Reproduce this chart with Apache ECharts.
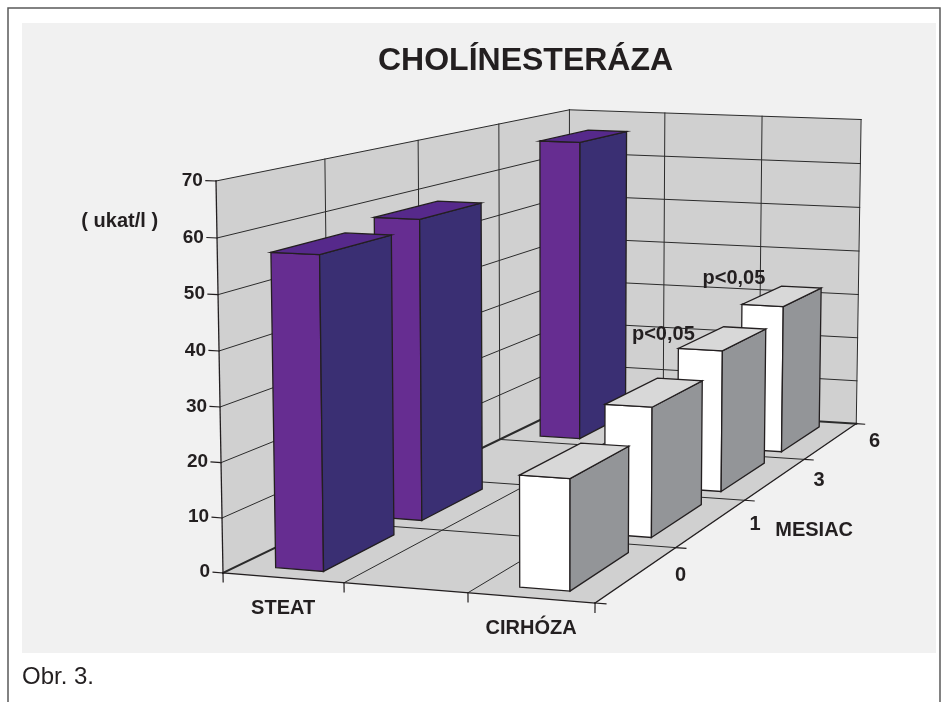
<!DOCTYPE html>
<html>
<head>
<meta charset="utf-8">
<script src="https://cdn.jsdelivr.net/npm/echarts@6/dist/echarts.min.js"></script>
<style>
  html, body { margin: 0; padding: 0; background: #ffffff; }
  #chart { width: 946px; height: 702px; }
</style>
</head>
<body>
<div id="chart"></div>
<script>
// ---- data ----
const categories = ['STEAT', '', 'CIRHÓZA'];
const months = ['0', '1', '3', '6'];
const steatValues = [57, 58.5, null, 66];
const cirhozaValues = [20, 25, 29, 32];
const valueTicks = [0, 10, 20, 30, 40, 50, 60, 70];
const cirhozaNotes = ['', '', 'p<0,05', 'p<0,05'];

const seriesValues = [steatValues, null, cirhozaValues];   // one list per category slot

// ---- look ----
const FONT = '"Liberation Sans", Arial, Helvetica, sans-serif';
const INK = '#231f20';
const WALL = '#d0d0d0';
const PALETTE = [
  { front: '#662d91', side: '#3a2f73', top: '#56298b' },
  null,
  { front: '#ffffff', side: '#939598', top: '#d8d8d8' }
];

// The hidden cartesian grid is the flat front plane of the box; VIEW tilts it
// and pushes the month rows backwards in perspective.
const VIEW = {
  depthShift: [115.02, -55.5],          // px per month row, before foreshortening
  frontRise: 9.647,                     // px the floor edge drops per category width
  lean: -0.98,                          // px the value axis leans per 10 units
  persp: [-0.01195, -0.00294, 0.0822],  // foreshortening per category, per 10 units, per row
  barHalfWidth: 0.2,                    // in category widths
  barDepth: [0.15, 0.85],               // share of a month row taken by a bar
  tickX: 0.083,                         // value-axis tick length (category widths)
  tickValue: 1.64,                      // category-axis tick length (value units)
  tickDepth: 0.085                      // month-axis tick length (category widths)
};
// label placement (screen offsets in px)
const LAYOUT = {
  valueLabelGap: 3,
  categoryLabelDrop: 31,
  monthLabelShift: [43.5, 1],
  monthTitleShift: [69.5, 30.5],
  unitAnchorValue: 63,
  unitShift: [-97, 1],
  noteShift: [null, null, [-15, -14], [-8, -26]]
};

function projector(params, api) {
  const cs = params.coordSys;
  const ox = cs.x;
  const oy = cs.y + cs.height;
  const band = api.size([1, 0])[0];
  const unit = api.size([0, 10])[1];
  const P = function (x, v, z) {
    // x: category widths from the left wall, v: value, z: month rows from the front
    const flat = api.coord([0, v]);
    const t = (oy - flat[1]) / unit;
    const w = 1 + VIEW.persp[0] * x + VIEW.persp[1] * t + VIEW.persp[2] * z;
    return [
      ox + (band * x + VIEW.lean * t + VIEW.depthShift[0] * z) / w,
      oy + (VIEW.frontRise * x - unit * t + VIEW.depthShift[1] * z) / w
    ];
  };
  P.catX = function (ci) { return (api.coord([ci, 0])[0] - ox) / band; };
  return P;
}

function lineEl(a, b, stroke, lw) {
  return { type: 'line', shape: { x1: a[0], y1: a[1], x2: b[0], y2: b[1] },
           style: { stroke: stroke, lineWidth: lw, lineCap: 'square' } };
}
function polyEl(pts, fill, stroke, lw) {
  return { type: 'polygon', shape: { points: pts },
           style: { fill: fill, stroke: stroke || 'none', lineWidth: lw || 0, lineJoin: 'miter' } };
}
function textEl(text, x, y, size, align, extra) {
  return { type: 'text', style: Object.assign({
    text: text, x: x, y: y, fill: INK, fontSize: size, fontWeight: 'bold',
    fontFamily: FONT, align: align || 'center', verticalAlign: 'middle' }, extra || {}) };
}

// walls, floor, grid lines, axes and their labels
function renderBox(params, api) {
  const P = projector(params, api);
  const nCat = categories.length;
  const nRow = months.length;
  const vMax = valueTicks[valueTicks.length - 1];
  const kids = [];
  const GRID = '#2b2b2b';

  kids.push(polyEl([P(0, 0, 0), P(nCat, 0, 0), P(nCat, 0, nRow), P(0, 0, nRow)], WALL));
  kids.push(polyEl([P(0, 0, 0), P(0, 0, nRow), P(0, vMax, nRow), P(0, vMax, 0)], WALL));
  kids.push(polyEl([P(0, 0, nRow), P(nCat, 0, nRow), P(nCat, vMax, nRow), P(0, vMax, nRow)], WALL));

  // wall grid
  valueTicks.forEach(function (v) {
    const lw = v === 0 ? 2 : 1;
    kids.push(lineEl(P(0, v, 0), P(0, v, nRow), GRID, lw));
    kids.push(lineEl(P(0, v, nRow), P(nCat, v, nRow), GRID, lw));
  });
  for (let z = 1; z <= nRow; z++) kids.push(lineEl(P(0, 0, z), P(0, vMax, z), GRID, 1));
  for (let x = 1; x <= nCat; x++) kids.push(lineEl(P(x, 0, nRow), P(x, vMax, nRow), GRID, 1));

  // floor grid
  for (let x = 1; x < nCat; x++) kids.push(lineEl(P(x, 0, 0), P(x, 0, nRow), GRID, 1));
  for (let z = 1; z < nRow; z++) kids.push(lineEl(P(0, 0, z), P(nCat, 0, z), GRID, 1));

  // category axis along the front edge
  kids.push(lineEl(P(0, 0, 0), P(nCat, 0, 0), INK, 1.3));
  for (let x = 0; x <= nCat; x++) kids.push(lineEl(P(x, 0, 0), P(x, -VIEW.tickValue, 0), INK, 1.2));
  categories.forEach(function (name, ci) {
    if (!name) return;
    const p = P(P.catX(ci), 0, 0);
    kids.push(textEl(name, p[0], p[1] + LAYOUT.categoryLabelDrop, 20));
  });

  // month axis along the right floor edge
  kids.push(lineEl(P(nCat, 0, 0), P(nCat, 0, nRow), INK, 1.3));
  for (let z = 0; z <= nRow; z++) kids.push(lineEl(P(nCat, 0, z), P(nCat + VIEW.tickDepth, 0, z), INK, 1.2));
  months.forEach(function (m, mi) {
    const p = P(nCat, 0, mi + 0.5);
    kids.push(textEl(m, p[0] + LAYOUT.monthLabelShift[0], p[1] + LAYOUT.monthLabelShift[1], 20));
  });
  const pm = P(nCat, 0, nRow / 2);
  kids.push(textEl('MESIAC', pm[0] + LAYOUT.monthTitleShift[0], pm[1] + LAYOUT.monthTitleShift[1], 20));

  // value axis up the front-left edge
  kids.push(lineEl(P(0, 0, 0), P(0, vMax, 0), INK, 1.3));
  valueTicks.forEach(function (v) {
    const p = P(-VIEW.tickX, v, 0);
    kids.push(lineEl(P(0, v, 0), p, INK, 1.2));
    kids.push(textEl(String(v), p[0] - LAYOUT.valueLabelGap, p[1], 19, 'right'));
  });
  const pu = P(0, LAYOUT.unitAnchorValue, 0);
  kids.push(textEl('( ukat/l )', pu[0] + LAYOUT.unitShift[0], pu[1] + LAYOUT.unitShift[1], 20));

  return { type: 'group', children: kids };
}

// one bar: front, right side and top faces
function renderBar(params, api) {
  const P = projector(params, api);
  const ci = api.value(0);
  const v = api.value(1);
  const m = api.value(2);
  const col = PALETTE[ci];
  const xc = P.catX(ci);
  const x0 = xc - VIEW.barHalfWidth, x1 = xc + VIEW.barHalfWidth;
  const z0 = m + VIEW.barDepth[0], z1 = m + VIEW.barDepth[1];
  const lw = 1.3;
  return {
    type: 'group',
    children: [
      polyEl([P(x0, 0, z0), P(x1, 0, z0), P(x1, v, z0), P(x0, v, z0)], col.front, INK, lw),
      polyEl([P(x1, 0, z0), P(x1, 0, z1), P(x1, v, z1), P(x1, v, z0)], col.side, INK, lw),
      polyEl([P(x0, v, z0), P(x1, v, z0), P(x1, v, z1), P(x0, v, z1)], col.top, INK, lw)
    ]
  };
}

// bars listed back row first so nearer bars paint over farther ones
const barData = [];
for (let mi = months.length - 1; mi >= 0; mi--) {
  seriesValues.forEach(function (vals, ci) {
    if (vals && vals[mi] != null) barData.push([ci, vals[mi], mi]);
  });
}

const noteItems = [];
cirhozaNotes.forEach(function (text, mi) {
  if (text) noteItems.push({ value: [2, cirhozaValues[mi], mi], text: text, shift: LAYOUT.noteShift[mi] });
});

function renderNote(params, api) {
  const P = projector(params, api);
  const item = noteItems[params.dataIndex];
  const ci = api.value(0);
  const v = api.value(1);
  const m = api.value(2);
  const p = P(P.catX(ci) - VIEW.barHalfWidth, v, m + VIEW.barDepth[0]);
  return textEl(item.text, p[0] + item.shift[0], p[1] + item.shift[1], 20);
}

const chart = echarts.init(document.getElementById('chart'), null, { renderer: 'canvas' });
chart.setOption({
  backgroundColor: '#ffffff',
  animation: false,
  title: {
    text: 'CHOLÍNESTERÁZA',
    left: 373,
    top: 40,
    textStyle: { fontSize: 32, fontWeight: 'bold', fontFamily: FONT, color: INK }
  },
  graphic: [
    { type: 'rect', z: -10, shape: { x: 8, y: 8, width: 932, height: 720 },
      style: { fill: '#ffffff', stroke: '#5a5a5a', lineWidth: 1.5 } },
    { type: 'rect', z: -9, shape: { x: 22, y: 23, width: 914, height: 630 },
      style: { fill: '#f1f1f1' } },
    { type: 'text', z: -8, style: { text: 'Obr. 3.', x: 22, y: 677, fill: INK,
      fontSize: 24, fontFamily: FONT, verticalAlign: 'middle' } }
  ],
  grid: { left: 223, top: 189.05, width: 358.68, height: 383.95, containLabel: false },
  xAxis: { type: 'category', data: categories, show: false },
  yAxis: { type: 'value', min: 0, max: 70, interval: 10, show: false },
  series: [
    { type: 'custom', name: 'box', z: 1, clip: false, silent: true,
      data: [[0, 0]], renderItem: renderBox },
    { type: 'custom', name: 'bars', z: 2, clip: false,
      encode: { x: 0, y: 1 }, data: barData, renderItem: renderBar },
    { type: 'custom', name: 'notes', z: 3, clip: false, silent: true,
      encode: { x: 0, y: 1 }, data: noteItems.map(function (n) { return n.value; }), renderItem: renderNote }
  ]
});
</script>
</body>
</html>
